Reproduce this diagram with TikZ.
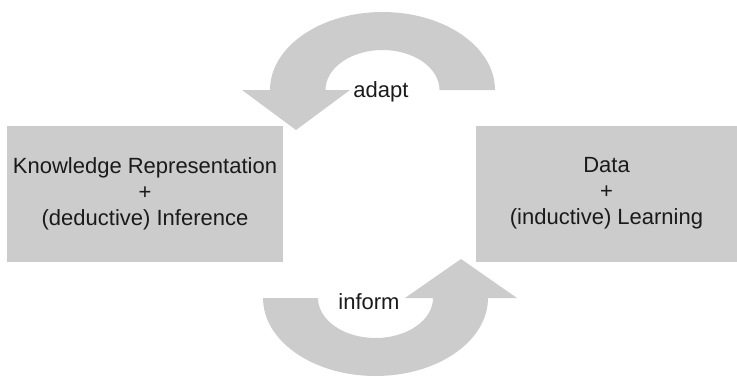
\documentclass[tikz,border=0pt]{standalone}
\usepackage{fontspec}
\setmainfont{Liberation Sans}
\definecolor{shapegray}{RGB}{204,204,204}
\definecolor{textdark}{RGB}{26,26,26}
\tikzset{
  boxnode/.style={fill=shapegray, draw=none, inner sep=0pt, align=center,
    text=textdark, font=\fontsize{22}{26}\selectfont},
  blockarrow/.style={fill=shapegray, draw=none},
  arrowlabel/.style={text=textdark, font=\fontsize{22}{26}\selectfont, inner sep=0pt, anchor=base}
}
\begin{document}
\begin{tikzpicture}[x=1pt,y=1pt]
\useasboundingbox (0,0) rectangle (737,376);
% boxes
\node[boxnode, minimum width=276pt, minimum height=136pt] (kr) at (145,182.5)
  {Knowledge Representation\\+\\(deductive) Inference};
\node[boxnode, minimum width=261pt, minimum height=136pt] (data) at (606.5,182.5)
  {Data\\+\\(inductive) Learning};
% top curved arrow (adapt): from Data towards Knowledge Representation
\coordinate (tc) at (382.5,286);
\fill[blockarrow] (495,286)
  arc[start angle=0, end angle=180, x radius=112.5, y radius=78]
  -- (242,286) -- (296,246) -- (350,286) -- (325.5,286)
  arc[start angle=180, end angle=0, x radius=57, y radius=40]
  -- cycle;
% bottom curved arrow (inform): from Knowledge Representation towards Data
\coordinate (bc) at (375.5,78);
\fill[blockarrow] (263,78)
  arc[start angle=180, end angle=360, x radius=112.5, y radius=78]
  -- (517,78) -- (461,117) -- (405,78) -- (433,78)
  arc[start angle=0, end angle=-180, x radius=57.5, y radius=40]
  -- cycle;
% labels
\node[arrowlabel] (adapt) at (381,279) {adapt};
\node[arrowlabel] (inform) at (369,67) {inform};
\end{tikzpicture}
\end{document}
